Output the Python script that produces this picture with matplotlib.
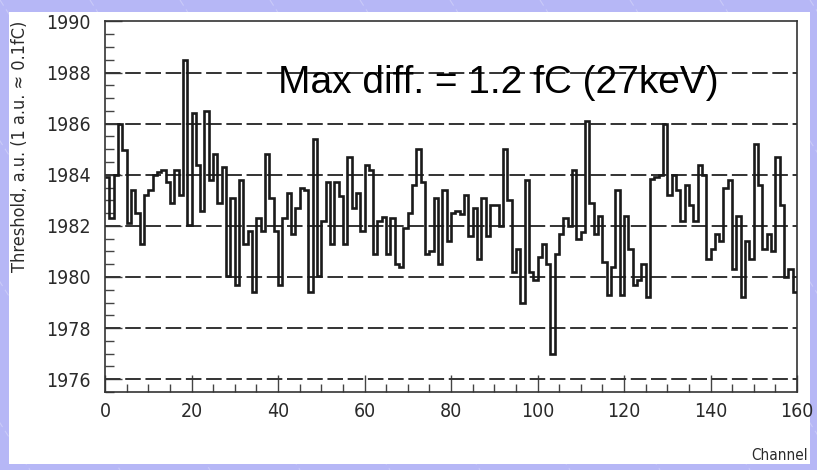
import numpy as np
import matplotlib
matplotlib.use("Agg")
import matplotlib.pyplot as plt
from matplotlib import font_manager
from matplotlib.patches import Rectangle

# ----- DATA -----
edges = np.arange(0, 161)   # channel bin edges
threshold = [
    1983.9, 1982.3, 1984.0, 1986.0, 1984.95, 1982.1, 1983.4, 1982.5, 1981.3, 1983.2,
    1983.4, 1984.0, 1984.1, 1984.2, 1983.7, 1982.9, 1984.2, 1983.2, 1988.5, 1982.05,
    1986.4, 1984.4, 1982.6, 1986.5, 1983.8, 1984.8, 1982.9, 1984.3, 1980.05, 1983.1,
    1979.7, 1983.8, 1981.3, 1981.8, 1979.4, 1982.3, 1981.8, 1984.8, 1983.1, 1981.8,
    1979.7, 1982.3, 1983.3, 1981.7, 1982.7, 1983.5, 1983.4, 1979.4, 1985.4, 1980.05,
    1982.2, 1983.7, 1981.3, 1983.7, 1983.15, 1981.3, 1984.7, 1982.7, 1983.3, 1981.8,
    1984.4, 1984.2, 1980.9, 1982.2, 1982.35, 1980.9, 1982.3, 1980.5, 1980.4, 1981.9,
    1982.5, 1983.6, 1985.0, 1983.7, 1980.9, 1981.0, 1983.1, 1980.5, 1983.4, 1981.4,
    1982.5, 1982.6, 1982.45, 1983.2, 1981.6, 1982.7, 1980.7, 1983.1, 1981.6, 1982.8,
    1982.8, 1982.0, 1985.0, 1983.0, 1980.2, 1981.1, 1979.0, 1983.8, 1980.2, 1979.9,
    1980.8, 1981.3, 1980.5, 1977.0, 1980.9, 1981.7, 1982.3, 1982.0, 1984.2, 1981.5,
    1981.75, 1986.1, 1982.9, 1981.7, 1982.4, 1980.6, 1979.3, 1980.4, 1983.4, 1979.3,
    1982.4, 1981.1, 1979.7, 1979.9, 1980.5, 1979.2, 1983.85, 1983.9, 1984.0, 1986.0,
    1983.2, 1984.0, 1983.4, 1982.2, 1983.6, 1982.8, 1982.2, 1984.4, 1984.0, 1980.7,
    1981.1, 1981.7, 1981.4, 1983.5, 1983.8, 1980.3, 1982.4, 1979.2, 1981.4, 1980.7,
    1985.2, 1983.6, 1981.1, 1981.7, 1981.0, 1984.7, 1982.8, 1980.0, 1980.3, 1979.4,
]
grid_levels = [1976, 1978, 1980, 1982, 1984, 1986, 1988]
x_ticks = [0, 20, 40, 60, 80, 100, 120, 140, 160]
y_ticks = [1976, 1978, 1980, 1982, 1984, 1986, 1988, 1990]
note = "Max diff. = 1.2 fC (27keV)"

# ----- pick a narrow font for the axis texts (ROOT-like squeezed look) -----
narrow_fp = None
for want in ["Liberation Sans Narrow", "Arial Narrow"]:
    for f in font_manager.fontManager.ttflist:
        if f.name == want and f.style == "normal" and str(f.weight) in ("400", "normal", "regular"):
            narrow_fp = f.fname
            break
    if narrow_fp:
        break
if narrow_fp is None:
    for f in font_manager.fontManager.ttflist:
        if f.stretch == "condensed" and f.style == "normal" and "Bold" not in f.fname:
            narrow_fp = f.fname
            break

def nfont(size):
    if narrow_fp:
        return font_manager.FontProperties(fname=narrow_fp, size=size)
    return font_manager.FontProperties(family="Liberation Sans", size=size * 0.8)

W, H = 817, 470
fig = plt.figure(figsize=(W / 100, H / 100), dpi=100)
fig.patch.set_facecolor("#b6b7f6")

# faint diagonal streaks of the slide background
for k in range(-6, 14):
    x0 = k * 90 / W
    fig.add_artist(plt.Line2D([x0, x0 + 300 / W], [1.0, 0.0], transform=fig.transFigure,
                              color="#c9caf8", linewidth=0.8, linestyle=(0, (6, 4)),
                              zorder=-20))

# white slide panel, behind everything
fig.patches.append(Rectangle((9 / W, 1 - 464 / H), 801 / W, 452 / H,
                             transform=fig.transFigure, facecolor="white",
                             edgecolor="none", zorder=-10))

ax = fig.add_axes([105 / W, 1 - 392 / H, 692 / W, 370.6 / H])
ax.set_zorder(2)
ax.set_facecolor("white")

ax.stairs(threshold, edges, color="#1a1a1a", linewidth=1.9, baseline=None, zorder=3)

for lvl in grid_levels:
    ax.axhline(lvl, color="#333333", linewidth=1.4, linestyle=(0, (8, 2.4)), zorder=2)

ax.set_xlim(0, 160)
ax.set_ylim(1975.5, 1990)
ax.set_xticks(x_ticks)
ax.set_xticks(np.arange(0, 161, 5), minor=True)
ax.set_yticks(y_ticks)
ax.set_yticks(np.arange(1975.5, 1990.01, 0.5), minor=True)
ax.tick_params(axis="both", which="both", direction="in", color="#444444", width=1.0)
ax.tick_params(axis="x", which="major", length=12, pad=7)
ax.tick_params(axis="x", which="minor", length=6)
ax.tick_params(axis="y", which="major", length=12, pad=10)
ax.tick_params(axis="y", which="minor", length=6.5)
for lab in ax.get_xticklabels() + ax.get_yticklabels():
    lab.set_fontproperties(nfont(14))
    lab.set_color("#2a2a2a")

for sp in ax.spines.values():
    sp.set_color("#333333")
    sp.set_linewidth(1.2)

txt = fig.text(278 / W, 1 - 92.7 / H, note, fontsize=28, family="Liberation Sans",
               color="black", ha="left", va="baseline")
txt.set_zorder(5)

fig.text(20 / W, 1 - 21 / H, "Threshold, a.u. (1 a.u. \u2248 0.1fC)", rotation=90,
         ha="center", va="top", fontproperties=nfont(13), color="#2a2a2a")
fig.text(808 / W, 1 - 455 / H, "Channel", ha="right", va="center",
         fontproperties=nfont(11), color="#2a2a2a")

fig.savefig("out.png", dpi=100, facecolor=fig.get_facecolor())
